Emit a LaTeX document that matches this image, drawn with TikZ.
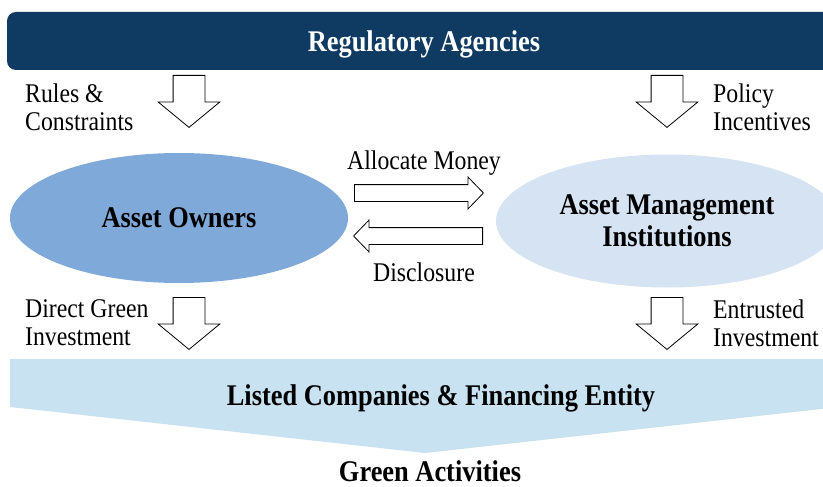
\documentclass[tikz,border=0pt]{standalone}
\usepackage{fontspec}
\setmainfont[FakeStretch=0.88]{Liberation Serif}
\usepackage{tikz}
\usetikzlibrary{positioning,shapes.geometric,shapes.arrows}

\definecolor{regnavy}{HTML}{0F3B63}
\definecolor{ownerblue}{HTML}{7FA9D9}
\definecolor{managerblue}{HTML}{D5E3F3}
\definecolor{bandblue}{HTML}{C8E2F1}

\begin{document}
\begin{tikzpicture}[
  x=1pt, y=-1pt,
  lbl/.style={
    font=\fontsize{27}{28}\selectfont,
    align=left, anchor=west, inner sep=0pt
  },
  heading/.style={
    font=\bfseries\fontsize{30}{32}\selectfont,
    align=center, inner sep=0pt
  },
  downarrow/.style={
    single arrow, draw=black, fill=white, line width=0.8pt,
    minimum width=61pt, minimum height=52pt,
    inner xsep=0pt, inner ysep=15.5pt,
    single arrow head extend=15pt,
    single arrow tip angle=101,
    rotate=-90, anchor=tail
  },
  sidearrow/.style={
    single arrow, draw=black, fill=white, line width=0.8pt,
    minimum width=31pt, minimum height=129pt,
    inner xsep=0pt, inner ysep=8pt,
    single arrow head extend=7.5pt,
    single arrow tip angle=92,
    anchor=tail
  }
]
\useasboundingbox (0,0) rectangle (823,487);
\clip (0,0) rectangle (823,487);

% top bar
\node[heading, draw=none, fill=regnavy, text=white, rounded corners=9pt,
      text depth=0pt, minimum width=834pt, minimum height=58pt]
  (reg) at (424,41) {Regulatory Agencies};

% the two investors
\node[heading, ellipse, fill=ownerblue, minimum width=338pt, minimum height=130pt]
  (owners) at (179,218) {Asset Owners};
\node[heading, ellipse, fill=managerblue, minimum width=342pt, minimum height=133pt]
  (managers) at (667,221) {Asset Management\\Institutions};

% bottom band
\fill[bandblue] (10,359) -- (830,359) -- (830,408) -- (425,453) -- (10,407) -- cycle;
\node[heading] (listed) at (441,398) {Listed Companies \& Financing Entity};
\node[heading] (green) at (430,471) {Green Activities};

% flows
\node[downarrow] (rulesarr) at (189,75) {};
\node[downarrow] (policyarr) at (667,75) {};
\node[downarrow] (directarr) at (189,297) {};
\node[downarrow] (entrustarr) at (667,297) {};

\node[sidearrow] (allocarr) at (354,193) {};
\node[sidearrow, rotate=180] (disclarr) at (483,236) {};

% labels
\node[lbl] (rules) at (25,107) {Rules \&\\Constraints};
\node[lbl] (policy) at (713,107) {Policy\\Incentives};
\node[lbl] (direct) at (25,323) {Direct Green\\Investment};
\node[lbl] (entrust) at (713,323) {Entrusted\\Investment};
\node[lbl, anchor=center] (alloc) at (424,163) {Allocate Money};
\node[lbl, anchor=center] (discl) at (424,272) {Disclosure};

\end{tikzpicture}
\end{document}
